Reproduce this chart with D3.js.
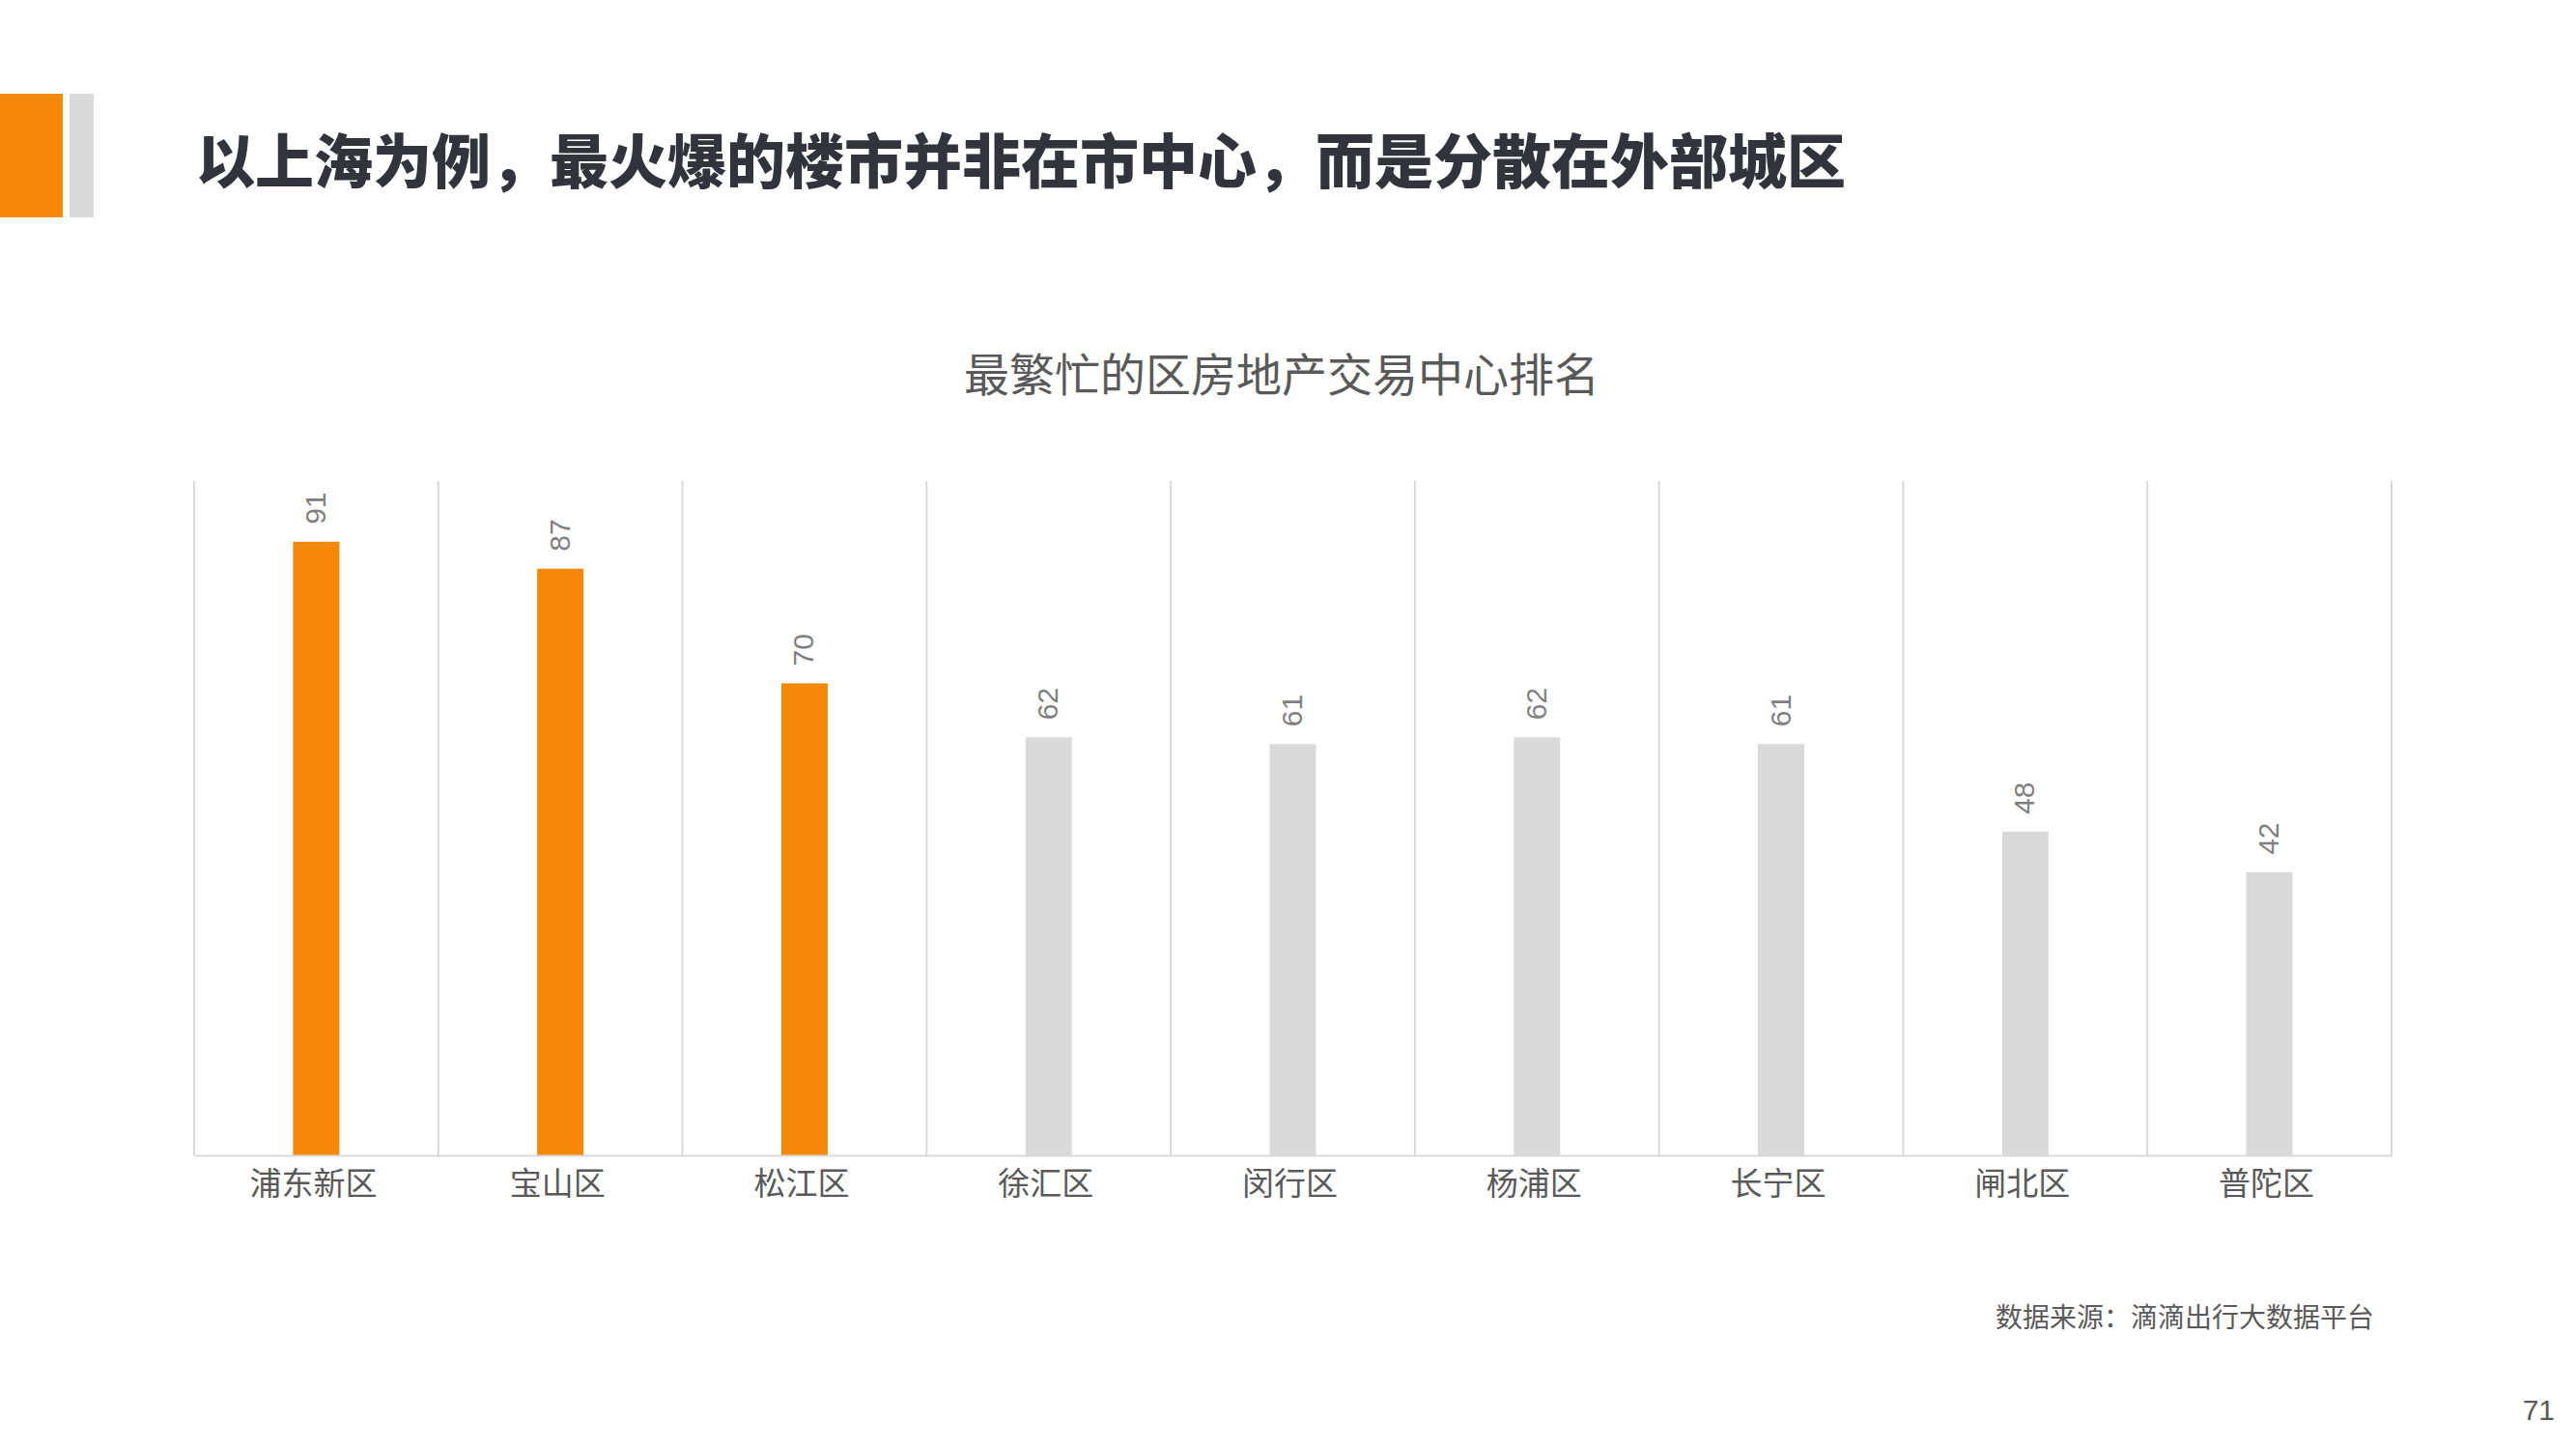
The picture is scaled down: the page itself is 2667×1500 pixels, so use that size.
<!DOCTYPE html>
<html><head><meta charset="utf-8">
<script src="https://cdn.jsdelivr.net/npm/d3@7"></script>
<style>
html,body{margin:0;padding:0;background:#fff;}
svg{display:block;}
</style></head>
<body>
<svg id="c" width="2667" height="1500"></svg>
<script>
const districts = ["浦东新区","宝山区","松江区","徐汇区","闵行区","杨浦区","长宁区","闸北区","普陀区"];
const scores = [91,87,70,62,61,62,61,48,42];
const highlighted = ["浦东新区","宝山区","松江区"];
const yDomain = [0,100];
const pageTitle = "以上海为例，最火爆的楼市并非在市中心，而是分散在外部城区";
const chartTitle = "最繁忙的区房地产交易中心排名";
const sourceNote = "数据来源：滴滴出行大数据平台";
const pageNumber = "71";

const svg = d3.select("#c");
const FONT = "'Liberation Sans','Noto Sans CJK SC',sans-serif";
const ORANGE = "#F58807", GREY = "#D9D9D9";

// header blocks
svg.append("rect").attr("x",0).attr("y",97).attr("width",65).attr("height",128).attr("fill",ORANGE);
svg.append("rect").attr("x",72).attr("y",97).attr("width",25).attr("height",128).attr("fill",GREY);
svg.append("text").attr("x",203).attr("y",163).attr("dominant-baseline","central")
  .attr("font-family","'Noto Sans CJK SC',sans-serif").attr("font-weight",900)
  .attr("font-size",61).attr("fill","#33333B").text(pageTitle);

svg.append("text").attr("x",1327).attr("y",384).attr("text-anchor","middle").attr("dominant-baseline","central")
  .attr("font-family","'Noto Sans CJK SC',sans-serif").attr("font-size",47).attr("fill","#595959").text(chartTitle);

const L=201, R=2476, T=498, B=1196;
const x = d3.scaleBand().domain(districts).range([L,R]).paddingInner(0).paddingOuter(0);
const y = d3.scaleLinear().domain(yDomain).range([B,T]);
const bw = 48;

// vertical separators
const seps = districts.map(d=>x(d)).concat([R]);
svg.append("g").selectAll("line").data(seps).join("line")
  .attr("x1",d=>d).attr("x2",d=>d).attr("y1",T).attr("y2",B)
  .attr("stroke",GREY).attr("stroke-width",2);

// bars
svg.append("g").selectAll("rect").data(districts).join("rect")
  .attr("x",d=>x(d)+x.bandwidth()/2-bw/2).attr("width",bw)
  .attr("y",(d,i)=>y(scores[i])).attr("height",(d,i)=>B-y(scores[i]))
  .attr("fill",d=>highlighted.includes(d)?ORANGE:GREY);

// bottom axis
const ax = svg.append("g").attr("transform",`translate(0,${B})`).call(d3.axisBottom(x).tickSize(0).tickPadding(18));
ax.select(".domain").attr("stroke",GREY).attr("stroke-width",2);
ax.selectAll("text").attr("font-family","'Noto Sans CJK SC',sans-serif").attr("font-size",33).attr("fill","#595959").attr("dx",-3);

// value labels
svg.append("g").selectAll("text").data(districts).join("text")
  .attr("transform",(d,i)=>`translate(${x(d)+x.bandwidth()/2-1},${y(scores[i])-18}) rotate(-90)`)
  .attr("dominant-baseline","central").attr("text-anchor","start")
  .attr("font-family",FONT).attr("font-size",30).attr("fill","#7F7F7F")
  .text((d,i)=>scores[i]);

svg.append("text").attr("x",2458).attr("y",1362).attr("text-anchor","end").attr("dominant-baseline","central")
  .attr("font-family","'Noto Sans CJK SC',sans-serif").attr("font-size",28).attr("fill","#595959").text(sourceNote);
svg.append("text").attr("x",2645).attr("y",1459).attr("text-anchor","end").attr("dominant-baseline","central")
  .attr("font-family",FONT).attr("font-size",30).attr("fill","#595959").text(pageNumber);
</script>
</body></html>
